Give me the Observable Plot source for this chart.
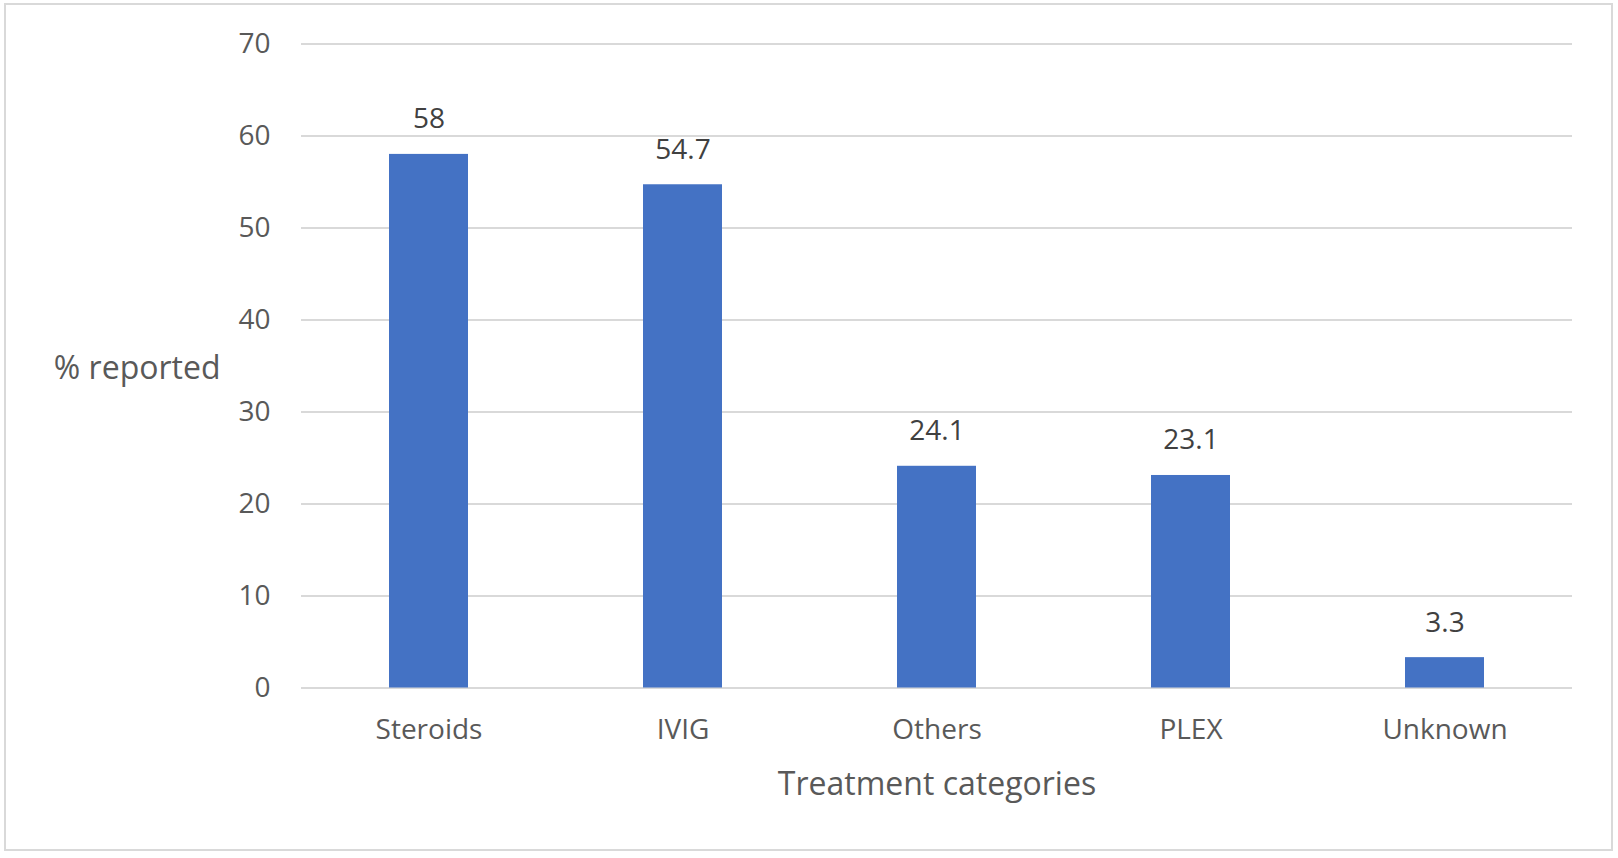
<!DOCTYPE html>
<html>
<head>
<meta charset="utf-8">
<script src="https://cdn.jsdelivr.net/npm/d3@7"></script>
<script src="https://cdn.jsdelivr.net/npm/@observablehq/plot@0.6"></script>
<style>
  html, body { margin: 0; padding: 0; background: #fff; }
  #wrap { position: relative; width: 1618px; height: 858px; }
  #border { position: absolute; left: 4px; top: 3px; width: 1609px; height: 848px; border: 2px solid #d9d9d9; box-sizing: border-box; pointer-events: none; }
  #chart { position: absolute; left: 0; top: 0; }
</style>
</head>
<body>
<div id="wrap"><div id="chart"></div><div id="border"></div></div>
<script>
const categories = ["Steroids", "IVIG", "Others", "PLEX", "Unknown"];
const values = [58, 54.7, 24.1, 23.1, 3.3];
const labels = ["58", "54.7", "24.1", "23.1", "3.3"];
const yTicks = [0, 10, 20, 30, 40, 50, 60, 70];
const xTitle = "Treatment categories";
const yTitle = "% reported";

const data = categories.map((c, i) => ({category: c, value: values[i], label: labels[i]}));
const font = "'Open Sans', sans-serif";

const chart = Plot.plot({
  width: 1618,
  height: 858,
  marginTop: 43.5,
  marginBottom: 170.5,
  marginLeft: 301,
  marginRight: 46,
  style: {fontFamily: font, fontSize: "28px", background: "transparent", overflow: "visible"},
  x: {domain: categories, paddingInner: 0.69, paddingOuter: 0.345, label: null},
  y: {domain: [0, 70], label: null},
  marks: [
    Plot.ruleY(yTicks, {stroke: "#d9d9d9", strokeWidth: 2}),
    Plot.barY(data, {x: "category", y: "value", fill: "#4472C4"}),
    Plot.text(data, {x: "category", y: "value", text: "label", lineAnchor: "bottom", dy: -26, fill: "#404040", fontSize: 28}),
    Plot.axisY({ticks: yTicks, tickSize: 0, tickPadding: 31, fill: "#595959", fontSize: 28, label: null}),
    Plot.axisX({tickSize: 0, tickPadding: 31.5, fill: "#595959", fontSize: 28, label: null}),
    Plot.text([xTitle], {frameAnchor: "bottom", lineAnchor: "bottom", dy: 106.5, fill: "#595959", fontSize: 32}),
    Plot.text([yTitle], {frameAnchor: "left", textAnchor: "end", dx: -81, dy: 3, fill: "#595959", fontSize: 32})
  ]
});
document.getElementById("chart").appendChild(chart);
</script>
</body>
</html>
